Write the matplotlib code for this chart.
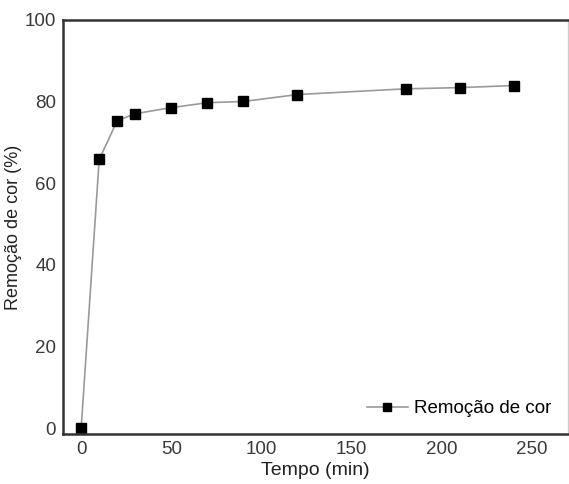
import matplotlib
matplotlib.use('Agg')
import matplotlib.pyplot as plt

plt.rcParams['font.family'] = ['Liberation Sans', 'DejaVu Sans']

tempo = [0, 10, 20, 30, 50, 70, 90, 120, 180, 210, 240]
remocao = [0, 65.8, 75.3, 77.0, 78.5, 79.7, 80.0, 81.7, 83.1, 83.4, 83.9]

fig = plt.figure(figsize=(5.69, 4.84), dpi=100)
ax = fig.add_axes([0.111, 0.103, 0.887, 0.856])

ax.plot(tempo, remocao, color='#9a9a9a', lw=1.2, marker='s', ms=7,
        mfc='black', mec='black', label='Remoção de cor')

ax.set_xlim(-10, 270)
ax.set_ylim(-1.5, 100)
ax.set_xticks([0, 50, 100, 150, 200, 250])
ax.set_yticks([0, 20, 40, 60, 80, 100])
ax.tick_params(length=0, labelsize=13.5, colors='#3a3a3a', pad=5)

for s in ['left', 'bottom', 'top']:
    ax.spines[s].set_color('#333333')
    ax.spines[s].set_linewidth(1.8)
ax.spines['right'].set_color('#cccccc')
ax.spines['right'].set_linewidth(1.0)

ax.set_xlabel('Tempo (min)', fontsize=14, color='#222222', labelpad=3)
ax.set_ylabel('Remoção de cor (%)', fontsize=13, color='#222222', labelpad=2)

ax.legend(loc='lower right', frameon=False, fontsize=13.5, handlelength=2.2,
          handletextpad=0.3, markerscale=0.8, borderaxespad=0.5)

fig.savefig('out.png', dpi=100)
